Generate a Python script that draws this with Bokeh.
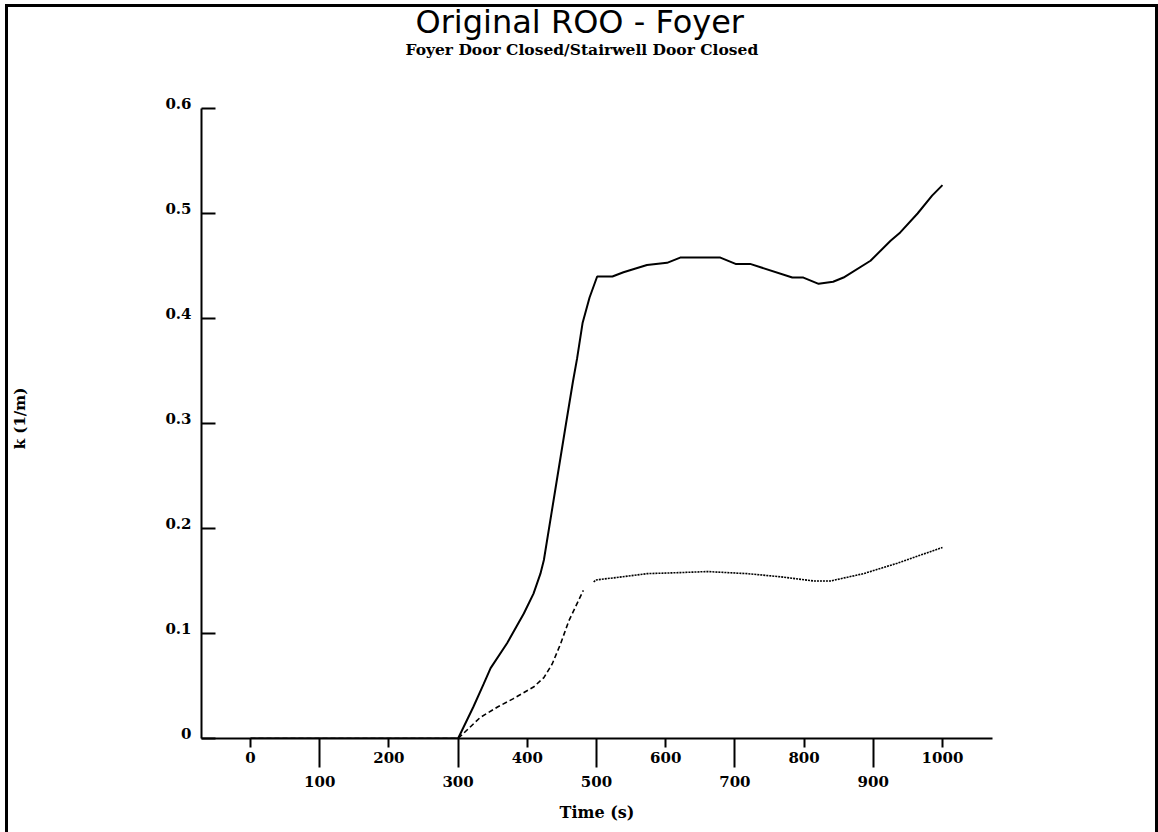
from bokeh.plotting import figure
from bokeh.models import FixedTicker, LinearAxis, Title, Range1d
from bokeh.embed import file_html
from bokeh.resources import INLINE

# ---- data ----
time_solid = [0, 300, 322, 337, 347, 371, 395, 409, 419, 424, 440, 456, 466, 472, 480, 490,
              501, 523, 539, 573, 602, 621, 679, 701, 722, 783, 799, 821, 842, 857, 896,
              925, 939, 964, 985, 1000]
k_solid = [0, 0, 0.030, 0.052, 0.067, 0.091, 0.119, 0.138, 0.157, 0.17, 0.235, 0.30, 0.34,
           0.362, 0.396, 0.42, 0.44, 0.44, 0.444, 0.451, 0.453, 0.458, 0.458, 0.452, 0.452,
           0.439, 0.439, 0.433, 0.435, 0.439, 0.455, 0.474, 0.482, 0.50, 0.517, 0.527]

time_dash = [0, 300, 332, 357, 380, 409, 424, 436, 448, 460, 481, 496, 499, 525, 573, 621,
             660, 718, 766, 814, 838, 886, 935, 1000]
k_dash = [0, 0, 0.020, 0.030, 0.038, 0.049, 0.058, 0.071, 0.09, 0.112, 0.141, 0.149, 0.151,
          0.153, 0.157, 0.158, 0.159, 0.157, 0.154, 0.150, 0.150, 0.157, 0.167, 0.182]
dash_split = 11  # rising (dashed) part vs. flat (dotted) part

x_ticks_upper = [0, 200, 400, 600, 800, 1000]
x_ticks_lower = [100, 300, 500, 700, 900]
y_ticks = [0, 0.1, 0.2, 0.3, 0.4, 0.5, 0.6]
y_tick_labels = ["0", "0.1", "0.2", "0.3", "0.4", "0.5", "0.6"]

title_text = "Original ROO - Foyer"
subtitle_text = "Foyer Door Closed/Stairwell Door Closed"
x_label = "Time (s)"
y_label = "k (1/m)"

SERIF = "DejaVu Serif"
SANS = "DejaVu Sans"
Y_AXIS_MAX = 0.6
Y_VIEW_MAX = 0.609524   # a little headroom so the lifted "0.6" label is drawn
LABEL_LIFT = 0.0048     # lift of y tick labels above their ticks (about 5 px)

p = figure(width=1158, height=832, x_range=Range1d(-70.8, 1072.3),
           y_range=Range1d(0, Y_VIEW_MAX),
           output_backend="svg", toolbar_location=None, x_axis_type=None, y_axis_type=None,
           min_border_left=201, min_border_right=166, min_border_top=98, min_border_bottom=94)
p.outline_line_color = None
p.background_fill_color = "white"
p.border_fill_alpha = 0
p.styles = {"background-color": "white",
            "box-shadow": ("inset 5px 0 0 0 white, inset 0 4px 0 0 white, "
                           "inset 8px 0 0 0 black, inset 0 7px 0 0 black, "
                           "inset -3px 0 0 0 black")}
p.extra_y_ranges = {"labels": Range1d(-LABEL_LIFT, Y_VIEW_MAX - LABEL_LIFT)}

# y axis: line and inward ticks
ya = LinearAxis(ticker=FixedTicker(ticks=y_ticks, minor_ticks=[]), bounds=(0, Y_AXIS_MAX),
                major_label_overrides={t: "" for t in y_ticks})
ya.axis_line_width = 2
ya.major_tick_in = 14
ya.major_tick_out = 0
ya.major_tick_line_width = 2
ya.minor_tick_line_color = None
ya.major_label_standoff = 0
p.add_layout(ya, "left")

# y axis: tick labels (slightly lifted) and axis title
yl = LinearAxis(y_range_name="labels", ticker=FixedTicker(ticks=y_ticks, minor_ticks=[]),
                major_label_overrides=dict(zip(y_ticks, y_tick_labels)))
yl.axis_line_color = None
yl.major_tick_line_color = None
yl.minor_tick_line_color = None
yl.major_tick_in = 0
yl.major_tick_out = 0
yl.major_label_standoff = 10
yl.major_label_text_font = SERIF
yl.major_label_text_font_style = "bold"
yl.major_label_text_font_size = "15px"
yl.major_label_text_color = "black"
yl.axis_label = y_label
yl.axis_label_text_font = SERIF
yl.axis_label_text_font_style = "bold"
yl.axis_label_text_font_size = "15px"
yl.axis_label_text_color = "black"
yl.axis_label_standoff = 133
p.add_layout(yl, "left")

# x axis (upper row of labels, short major ticks, long minor ticks)
xa1 = LinearAxis(ticker=FixedTicker(ticks=x_ticks_upper, minor_ticks=x_ticks_lower))
xa1.axis_line_width = 2
xa1.major_tick_in = 0
xa1.major_tick_out = 9
xa1.major_tick_line_width = 2
xa1.minor_tick_in = 0
xa1.minor_tick_out = 29
xa1.minor_tick_line_width = 2
xa1.minor_tick_line_color = "black"
xa1.major_label_standoff = -16
xa1.major_label_text_font = SERIF
xa1.major_label_text_font_style = "bold"
xa1.major_label_text_font_size = "15px"
xa1.major_label_text_color = "black"
p.add_layout(xa1, "below")

# x axis (lower row of labels)
xa2 = LinearAxis(ticker=FixedTicker(ticks=x_ticks_lower, minor_ticks=[]))
xa2.axis_line_color = None
xa2.major_tick_line_color = None
xa2.minor_tick_line_color = None
xa2.major_tick_in = 0
xa2.major_tick_out = 0
xa2.major_label_standoff = 10
xa2.major_label_text_font = SERIF
xa2.major_label_text_font_style = "bold"
xa2.major_label_text_font_size = "15px"
xa2.major_label_text_color = "black"
xa2.axis_label = x_label
xa2.axis_label_text_font = SERIF
xa2.axis_label_text_font_style = "bold"
xa2.axis_label_text_font_size = "16px"
xa2.axis_label_text_color = "black"
xa2.axis_label_standoff = 13
p.add_layout(xa2, "below")

# series
p.line(time_solid, k_solid, line_color="black", line_width=2)
p.line(time_dash[:dash_split], k_dash[:dash_split], line_color="black", line_width=1.6,
       line_dash="5 3")
p.line(time_dash[dash_split:], k_dash[dash_split:], line_color="black", line_width=1.6,
       line_dash="2 1")

# titles, stacked upward from the plot: spacer, subtitle, main title
p.add_layout(Title(text=" ", text_font_size="1px", standoff=37), "above")
p.add_layout(Title(text=subtitle_text, align="left", offset=204, standoff=0,
                   vertical_align="bottom",
                   text_font=SERIF, text_font_style="bold", text_font_size="15.5px",
                   text_color="black"), "above")
p.add_layout(Title(text=title_text, align="left", offset=214, standoff=-6,
                   vertical_align="bottom",
                   text_font=SANS, text_font_style="normal",
                   text_font_size="32px", text_color="black"), "above")

open("out.html", "w").write(file_html(p, INLINE))
